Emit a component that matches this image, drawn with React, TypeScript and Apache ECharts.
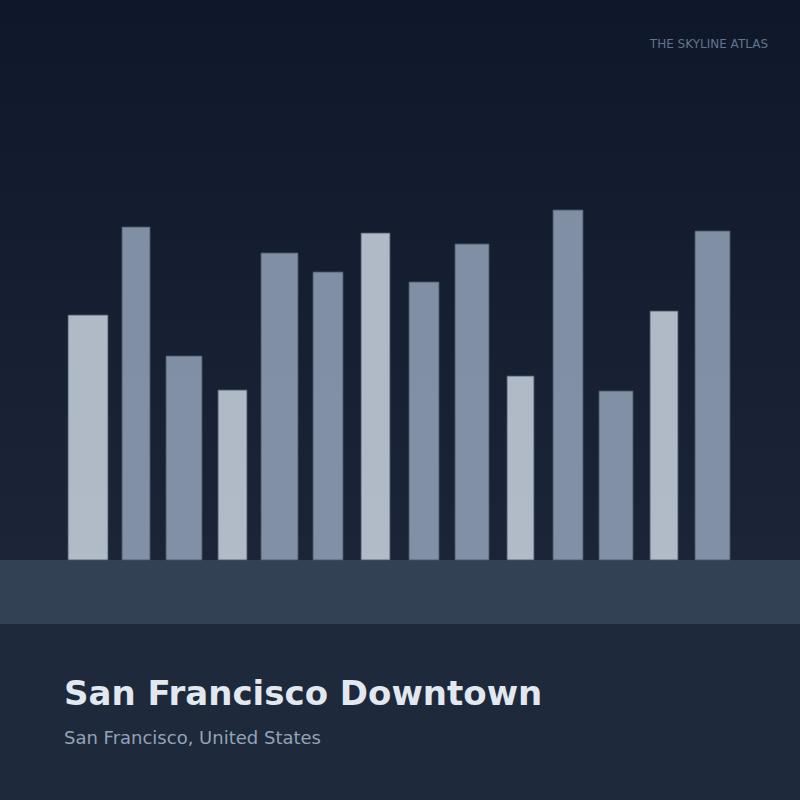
import React, { useEffect, useRef } from 'react';
import * as echarts from 'echarts';

// skyline footprint: left edge, width and height of each tower (scene units)
const towerLeft = [68, 122, 166, 218, 261, 313, 361, 409, 455, 507, 553, 599, 650, 695];
const towerWidth = [40, 28, 36, 29, 37, 30, 29, 30, 34, 27, 30, 34, 28, 35];
const towerHeight = [245, 333, 204, 170, 307, 288, 327, 278, 316, 184, 350, 169, 249, 329];
// 1 = light facade, 0 = shaded facade
const towerTone = [1, 0, 0, 1, 0, 0, 1, 0, 0, 1, 0, 0, 1, 0];

const cityTitle = 'San Francisco Downtown';
const citySubtitle = 'San Francisco, United States';
const brand = 'THE SKYLINE ATLAS';

const FONT = "'DejaVu Sans', sans-serif";

export default function App() {
  const chartRef = useRef<HTMLDivElement>(null);

  useEffect(() => {
    if (!chartRef.current) return;
    document.body.style.margin = '0';

    const chart = echarts.init(chartRef.current, null, { renderer: 'svg' });

    const data = towerLeft.map((x, i) => [x, towerWidth[i], towerHeight[i], towerTone[i]]);

    const option = {
      animation: false,
      backgroundColor: '#1e293b',
      grid: { left: 0, right: 0, top: 0, bottom: 240 },
      xAxis: { type: 'value', min: 0, max: 800, show: false },
      yAxis: { type: 'value', min: 0, max: 560, show: false },
      graphic: [
        {
          type: 'rect',
          z: -10,
          silent: true,
          shape: { x: 0, y: 0, width: 800, height: 560 },
          style: {
            fill: new echarts.graphic.LinearGradient(0, 0, 0, 1, [
              { offset: 0, color: '#0f172a' },
              { offset: 1, color: '#1c2538' }
            ])
          }
        },
        {
          type: 'rect',
          z: -10,
          silent: true,
          shape: { x: 0, y: 560, width: 800, height: 64 },
          style: { fill: '#334155' }
        },
        {
          type: 'text',
          right: 32,
          top: 38,
          style: { text: brand, fill: '#64748b', font: `12px ${FONT}` }
        },
        {
          type: 'text',
          x: 64,
          y: 676,
          style: {
            text: cityTitle,
            fill: '#e2e8f0',
            font: `bold 34px ${FONT}`
          }
        },
        {
          type: 'text',
          x: 64,
          y: 728,
          style: {
            text: citySubtitle,
            fill: '#94a3b8',
            font: `18px ${FONT}`
          }
        }
      ],
      series: [
        {
          type: 'custom',
          data,
          renderItem: (params: any, api: any) => {
            const x0 = api.value(0);
            const w = api.value(1);
            const h = api.value(2);
            const tone = api.value(3);
            const topLeft = api.coord([x0, h]);
            const bottomRight = api.coord([x0 + w, 0]);
            return {
              type: 'rect',
              shape: {
                x: topLeft[0],
                y: topLeft[1],
                width: bottomRight[0] - topLeft[0],
                height: bottomRight[1] - topLeft[1]
              },
              style: {
                fill: tone ? '#cbd5e1' : '#94a3b8',
                stroke: '#475569',
                lineWidth: 1,
                opacity: 0.85
              }
            };
          }
        }
      ]
    };

    chart.setOption(option);

    return () => {
      chart.dispose();
    };
  }, []);

  return <div ref={chartRef} style={{ width: 800, height: 800 }} />;
}
